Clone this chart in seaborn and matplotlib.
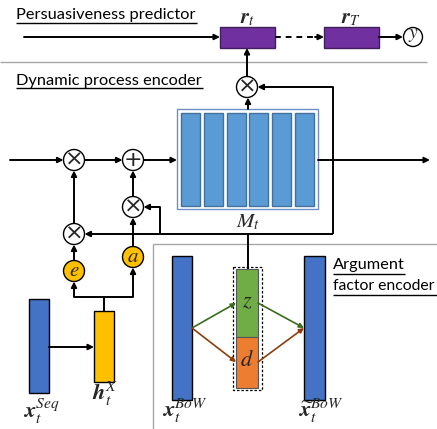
import numpy as np
import seaborn as sns
from matplotlib import pyplot as plt
from matplotlib.patches import Rectangle, Circle

sns.set_theme(style="white")
plt.rcParams['font.family'] = ['Lato', 'DejaVu Sans']
plt.rcParams['mathtext.fontset'] = 'stix'

# diagram layout (pixel coords, y pointing down)
# (text, x, baseline y, underline end x, underline y, font size)
titles = [("Persuasiveness predictor", 16, 19.5, 197, 22.5, 11.8),
          ("Dynamic process encoder", 16, 84.5, 203, 88, 11.8),
          ("Argument", 333, 269.5, 405, 274, 11.8),
          ("factor encoder", 333, 289.5, 437, 295, 11.3)]

state_boxes = [(220, 27, 55, 21), (324, 27, 55, 21)]
state_labels = [r'$\boldsymbol{r}_t$', r'$\boldsymbol{r}_T$']

mult_nodes = [(247, 87), (74, 160), (133, 207), (74, 234)]
add_nodes = [(133, 160)]
gate_nodes = [(74, 271, r'$e$'), (133, 257, r'$a$')]
out_node = (413, 37)
node_r = 10.5

memory_frame = (177, 109, 141, 100)
memory_slots = [181, 204, 227, 249, 272, 295]
slot_w = 19

# input / encoder bars: x, y, w, h, color
bars = [(29, 299, 20, 94, '#4472C4'),
        (94, 311, 20, 71, '#FFC000'),
        (172, 256, 20, 144, '#4472C4'),
        (304, 256, 21, 144, '#4472C4')]
bar_labels = [(41, 411, r'$\boldsymbol{x}_t^{Seq}$'),
              (105, 394, r'$\boldsymbol{h}_t^{X}$'),
              (185, 411, r'$\boldsymbol{x}_t^{BoW}$'),
              (321, 411, r'$\widetilde{\boldsymbol{x}}_t^{BoW}$')]
latent = [(236, 269, 22, 68, '#70AD47', r'$z$'), (236, 337, 22, 51, '#ED7D31', r'$d$')]

fig = plt.figure(figsize=(4.37, 4.29), dpi=100)
ax = fig.add_axes([0, 0, 1, 1])
ax.set_xlim(0, 437)
ax.set_ylim(429, 0)
ax.axis('off')

LW = 1.4


def arrow(x0, y0, x1, y1, color='black', lw=LW, ms=8):
    ax.annotate('', xy=(x1, y1), xytext=(x0, y0),
                arrowprops=dict(arrowstyle='-|>', color=color, lw=lw, mutation_scale=ms,
                                shrinkA=0, shrinkB=0))


def line(xs, ys, color='black', lw=LW, **kw):
    ax.plot(xs, ys, color=color, lw=lw, solid_capstyle='butt', **kw)


# section titles with underline
for (t, x, y, xe, yu, fs) in titles:
    ax.text(x, y, t, fontsize=fs, ha='left', va='baseline', color='black')
    line([x, xe], [yu, yu], lw=1.0)

# gray separators
line([0, 427], [62, 62], color='#A6A6A6', lw=1.0)
line([153, 153], [244, 440], color='#A6A6A6', lw=1.0)
line([153, 440], [244, 244], color='#A6A6A6', lw=1.0)

# persuasiveness predictor
for (x, y, w, h), lab in zip(state_boxes, state_labels):
    ax.add_patch(Rectangle((x, y), w, h, facecolor='#7030A0', edgecolor='#3F1F5C', lw=1.0))
    ax.text(x + w / 2, y - 9, lab, fontsize=15, ha='center', va='center')
arrow(24, 37, 220, 37)
line([275, 316], [37, 37], ls=(0, (3, 2.5)))
arrow(315, 37, 324, 37)
arrow(379, 37, out_node[0] - 10, 37)
ax.add_patch(Circle(out_node, 9.5, facecolor='white', edgecolor='black', lw=1.0))
ax.text(out_node[0], out_node[1] - 1, r'$y$', fontsize=14, ha='center', va='center')

# memory
fx, fy, fw, fh = memory_frame
ax.add_patch(Rectangle((fx, fy), fw, fh, facecolor='white', edgecolor='#6F8FC9', lw=1.0))
for sx in memory_slots:
    ax.add_patch(Rectangle((sx, 113), slot_w, 93, facecolor='#5B9BD5', edgecolor='#41719C', lw=1.0))
ax.text(248, 222, r'$M_t$', fontsize=15, ha='center', va='center')

# main flow
arrow(10, 160, 74 - node_r, 160)
arrow(74 + node_r, 160, 133 - node_r, 160)
arrow(133 + node_r, 160, fx, 160)
arrow(fx + fw, 160, 430, 160)
arrow(248, fy, 248, 87 + node_r)
arrow(247, 87 - node_r, 247, 48)

# feedback from latent
line([333, 333], [87, 234])
arrow(333, 87, 247 + node_r, 87)
line([333, 74 + node_r + 3], [234, 234])
arrow(90, 234, 74 + node_r, 234)
line([160, 160], [234, 207])
arrow(160, 207, 133 + node_r, 207)
line([248, 248], [234, 269])

# gates
arrow(74, 234 - node_r, 74, 160 + node_r)
arrow(133, 207 - node_r, 133, 160 + node_r)
arrow(74, 271 - node_r, 74, 234 + node_r)
arrow(133, 257 - node_r, 133, 207 + node_r)
line([74, 133], [297, 297])
arrow(74, 297, 74, 271 + node_r)
arrow(133, 297, 133, 257 + node_r)
line([104, 104], [297, 311])

for (x, y) in mult_nodes:
    ax.add_patch(Circle((x, y), node_r, facecolor='white', edgecolor='black', lw=1.0, zorder=3))
    ax.text(x, y, '×', fontsize=16, ha='center', va='center', zorder=4, family='DejaVu Sans')
for (x, y) in add_nodes:
    ax.add_patch(Circle((x, y), node_r, facecolor='white', edgecolor='black', lw=1.0, zorder=3))
    ax.text(x, y, '+', fontsize=16, ha='center', va='center', zorder=4, family='DejaVu Sans')
for (x, y, lab) in gate_nodes:
    ax.add_patch(Circle((x, y), node_r, facecolor='#FFC000', edgecolor='black', lw=1.0, zorder=3))
    ax.text(x, y - 1, lab, fontsize=15, ha='center', va='center', zorder=4)

# bars
for (x, y, w, h, c) in bars:
    ax.add_patch(Rectangle((x, y), w, h, facecolor=c, edgecolor='black', lw=1.0))
for (x, y, lab) in bar_labels:
    ax.text(x, y, lab, fontsize=16, ha='center', va='center')
arrow(49, 347, 94, 347)

# latent z / d
ax.add_patch(Rectangle((233, 267), 29, 123, facecolor='white', edgecolor='black', lw=0.9, ls=(0, (2, 1.5))))
for (x, y, w, h, c, lab) in latent:
    ax.add_patch(Rectangle((x, y), w, h, facecolor=c, edgecolor='#555555', lw=0.8))
    ax.text(x + w / 2, y + h / 2 - 2, lab, fontsize=16, ha='center', va='center')

arrow(192, 328, 236, 303, color='#3B6B1F', lw=1.2, ms=7)
arrow(192, 328, 236, 362, color='#8B3E0A', lw=1.2, ms=7)
arrow(258, 303, 304, 328, color='#3B6B1F', lw=1.2, ms=7)
arrow(258, 362, 304, 328, color='#8B3E0A', lw=1.2, ms=7)

fig.savefig('out.png', dpi=100)
